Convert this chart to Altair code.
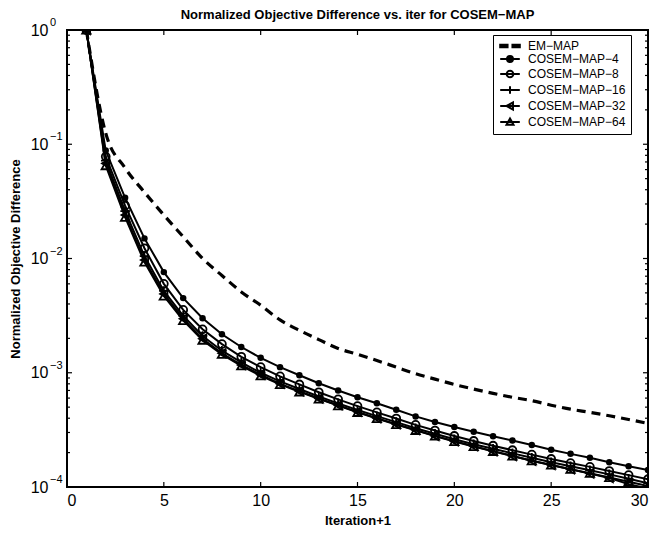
import altair as alt
import pandas as pd

# ---------------- data ----------------
iters = list(range(1, 31))

em_map = [1.0, 0.125, 0.062, 0.038, 0.024, 0.0155, 0.0100, 0.0071, 0.0051, 0.0039,
          0.0029, 0.00235, 0.00195, 0.00163, 0.00145, 0.00128, 0.00112, 0.00098, 0.00088, 0.00079,
          0.00072, 0.00066, 0.00061, 0.00057, 0.00052, 0.00048, 0.00045, 0.00042, 0.00039, 0.00036]

cosem4 = [1.0, 0.088, 0.034, 0.015, 0.0076, 0.0045, 0.0030, 0.00217, 0.00168, 0.00135,
          0.00112, 0.00095, 0.00081, 0.00070, 0.00061, 0.00054, 0.000475, 0.000415, 0.00037, 0.000335,
          0.000305, 0.000278, 0.000255, 0.000233, 0.000212, 0.000195, 0.00018, 0.000165, 0.000152, 0.000141]

cosem8 = [1.0, 0.078, 0.029, 0.0123, 0.0060, 0.00355, 0.0024, 0.00178, 0.00138, 0.00112,
          0.00093, 0.00079, 0.000675, 0.000585, 0.00051, 0.00045, 0.000398, 0.00035, 0.000312, 0.00028,
          0.000253, 0.00023, 0.00021, 0.000192, 0.000176, 0.000162, 0.00015, 0.000138, 0.000127, 0.000117]

cosem16 = [1.0, 0.072, 0.026, 0.0105, 0.0052, 0.00315, 0.0021, 0.00156, 0.00123, 0.00100,
           0.00084, 0.00072, 0.00062, 0.00054, 0.000472, 0.000417, 0.00037, 0.000327, 0.000292, 0.000262,
           0.000237, 0.000216, 0.000197, 0.00018, 0.000165, 0.000152, 0.00014, 0.000129, 0.000118, 0.000108]

cosem32 = [1.0, 0.068, 0.024, 0.0097, 0.0049, 0.00297, 0.00198, 0.00148, 0.00117, 0.00096,
           0.00080, 0.00069, 0.000595, 0.00052, 0.000455, 0.0004, 0.000355, 0.000315, 0.00028, 0.000252,
           0.000227, 0.000206, 0.000187, 0.00017, 0.000156, 0.000143, 0.000131, 0.00012, 0.000106, 0.000097]

cosem64 = [1.0, 0.065, 0.023, 0.0093, 0.0047, 0.00287, 0.00193, 0.00145, 0.00115, 0.00094,
           0.00079, 0.00068, 0.00059, 0.000515, 0.00045, 0.000397, 0.000352, 0.000313, 0.000279, 0.00025,
           0.000226, 0.000205, 0.000187, 0.00017, 0.000156, 0.000143, 0.000132, 0.000121, 0.000111, 0.000102]

names = ["EM\u2212MAP", "COSEM\u2212MAP\u22124", "COSEM\u2212MAP\u22128",
         "COSEM\u2212MAP\u221216", "COSEM\u2212MAP\u221232", "COSEM\u2212MAP\u221264"]

x_ticks = [0, 5, 10, 15, 20, 25, 30]
y_ticks = [1.0, 0.1, 0.01, 0.001, 0.0001]
y_exps = ["0", "\u22121", "\u22122", "\u22123", "\u22124"]
minor_mult = [2, 3, 4, 5, 6, 7, 8, 9]
decades = [0.0001, 0.001, 0.01, 0.1]

# ---------------- layout ----------------
W, H = 581, 457
FONT = "Liberation Sans"

xscale = alt.Scale(domain=[0, 30], nice=False, zero=False)
yscale = alt.Scale(type="log", domain=[0.0001, 1], nice=False)

xaxis = alt.Axis(values=x_ticks, grid=False, ticks=False, tickSize=0, domain=False,
                 labelFontSize=16, labelPadding=5, labelFont=FONT, labelColor="black",
                 title="Iteration+1", titleFontSize=13, titleFontWeight="bold",
                 titleFont=FONT, titleColor="black", titlePadding=6)
yaxis = alt.Axis(values=y_ticks, labelExpr="'10'", grid=False, ticks=False, tickSize=0,
                 domain=False, labelFontSize=16, labelPadding=19, labelFont=FONT,
                 labelColor="black", title="Normalized Objective Difference",
                 titleFontSize=13, titleFontWeight="bold", titleFont=FONT,
                 titleColor="black", titlePadding=8)

X = alt.X("iter:Q", scale=xscale, axis=xaxis)
Y = alt.Y("value:Q", scale=yscale, axis=yaxis)

series = {names[1]: cosem4, names[2]: cosem8, names[3]: cosem16,
          names[4]: cosem32, names[5]: cosem64}
cos_df = pd.DataFrame([{"iter": i, "value": v, "series": s}
                       for s, vals in series.items() for i, v in zip(iters, vals)])
em_df = pd.DataFrame({"iter": iters, "value": em_map})

em_line = alt.Chart(em_df).mark_line(color="black", strokeWidth=3.2, strokeDash=[9, 6],
                                     interpolate="monotone", clip=True).encode(x=X, y=Y)
cos_lines = alt.Chart(cos_df).mark_line(color="black", strokeWidth=2, clip=True).encode(
    x=X, y=Y, detail="series:N")

marker_specs = [
    (names[1], dict(shape="circle", filled=True, size=42)),
    (names[2], dict(shape="circle", filled=False, size=62)),
    (names[3], dict(shape="M-1,0H1M0,-1V1", filled=False, size=90)),
    (names[4], dict(shape="triangle-left", filled=False, size=70)),
    (names[5], dict(shape="triangle-up", filled=False, size=70)),
]
point_layers = []
for nm, spec in marker_specs:
    d = pd.DataFrame({"iter": iters, "value": series[nm]})
    point_layers.append(
        alt.Chart(d).mark_point(color="black", strokeWidth=1.8, opacity=1, clip=True, **spec)
        .encode(x=X, y=Y))

# legend symbols: line sample + marker
leg_paths = [
    "M-2.8,-0.35H-0.7V0.35H-2.8ZM0.7,-0.35H2.8V0.35H0.7Z",
    "M-2.8,0H2.8M-0.85,0A0.85,0.85 0 1,0 0.85,0A0.85,0.85 0 1,0 -0.85,0Z",
    "M-2.8,0H2.8M-0.95,0A0.95,0.95 0 1,0 0.95,0A0.95,0.95 0 1,0 -0.95,0Z",
    "M-2.8,0H2.8M0,-1.05V1.05",
    "M-2.8,0H2.8M-1,0L0.85,-1L0.85,1Z",
    "M-2.8,0H2.8M0,-1L1,0.8L-1,0.8Z",
]
leg_fills = ["black", "black", "white", "white", "white", "white"]
leg_strokes = ["black"] * 6
leg = alt.Legend(title=None, orient="none", legendX=426, legendY=5, labelFontSize=12,
                 labelFont=FONT, labelColor="black", symbolSize=49, symbolStrokeColor="black",
                 symbolStrokeWidth=2, symbolOpacity=1, symbolOffset=6, labelOffset=12,
                 rowPadding=0, padding=5, strokeColor="black", fillColor="white",
                 labelLimit=300)
leg_df = pd.DataFrame({"lg": names})
legend_layer = alt.Chart(leg_df).mark_point(filled=False, opacity=0, size=49,
                                            color="black").encode(
    shape=alt.Shape("lg:N", scale=alt.Scale(domain=names, range=leg_paths), legend=leg),
    fill=alt.Fill("lg:N", scale=alt.Scale(domain=names, range=leg_fills), legend=leg),
    stroke=alt.Stroke("lg:N", scale=alt.Scale(domain=names, range=leg_strokes), legend=leg),
)

# inward ticks (MATLAB style)
xt_df = pd.DataFrame({"iter": x_ticks})
yt_df = pd.DataFrame({"value": y_ticks})
ym_df = pd.DataFrame({"value": [m * d for d in decades for m in minor_mult]})
TK = dict(color="black", strokeWidth=1.2)
ticks = [
    alt.Chart(xt_df).mark_rule(**TK).encode(x=X, y=alt.value(H), y2=alt.value(H - 5)),
    alt.Chart(xt_df).mark_rule(**TK).encode(x=X, y=alt.value(0), y2=alt.value(5)),
    alt.Chart(yt_df).mark_rule(**TK).encode(y=Y, x=alt.value(0), x2=alt.value(5)),
    alt.Chart(yt_df).mark_rule(**TK).encode(y=Y, x=alt.value(W - 5), x2=alt.value(W)),
    alt.Chart(ym_df).mark_rule(**TK).encode(y=Y, x=alt.value(0), x2=alt.value(3)),
    alt.Chart(ym_df).mark_rule(**TK).encode(y=Y, x=alt.value(W - 3), x2=alt.value(W)),
]

exp_df = pd.DataFrame({"value": y_ticks, "exp": y_exps})
exp_text = alt.Chart(exp_df).mark_text(align="left", baseline="middle", fontSize=11,
                                       font=FONT, color="black", dy=-7).encode(
    x=alt.value(-17), y=Y, text="exp:N")

chart = alt.layer(em_line, cos_lines, *point_layers, *ticks, exp_text, legend_layer).properties(
    width=W, height=H,
    title=alt.Title("Normalized Objective Difference vs. iter for COSEM\u2212MAP",
                    fontSize=13, fontWeight="bold", font=FONT, color="black", offset=-5,
                    anchor="middle", frame="group"),
    padding={"left": 59, "top": 22, "right": 2, "bottom": 45},
    autosize=alt.AutoSizeParams(type="none"),
).configure(font=FONT).configure_view(stroke="black", strokeWidth=2)

chart.save("out.html", embed_options={"renderer": "svg", "actions": False})
